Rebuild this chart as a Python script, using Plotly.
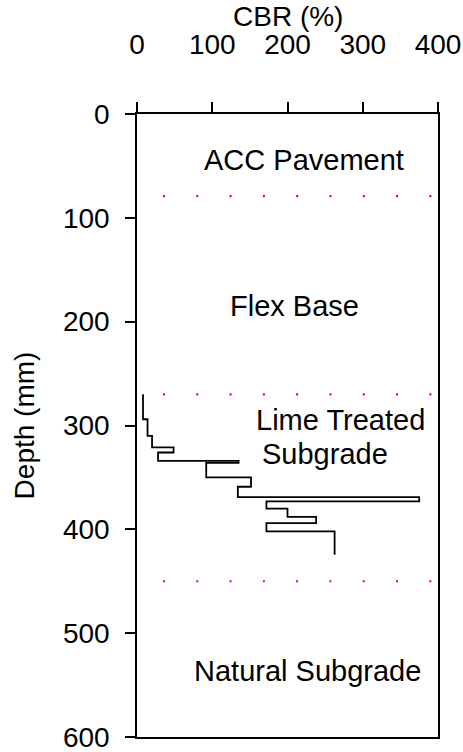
import plotly.graph_objects as go

# DCP-derived CBR profile: each layer has a constant CBR between two depths
layer_top_depth = [270, 294, 310, 321, 326, 334, 336, 350, 359, 369, 373, 380, 388, 394, 402]
layer_bottom_depth = 424.5
cbr_values = [8, 14, 20, 48.6, 28, 135, 92, 151.5, 134, 375, 172, 200, 238, 172, 262.6]

# pavement structure boundaries (mm)
boundary_depths = [79, 270, 450]

# layer names and where they sit (CBR, depth)
layer_names = ["ACC Pavement", "Flex Base", "Lime Treated", "Subgrade", "Natural Subgrade"]
label_cbr = [222.4, 208.8, 269.8, 249.6, 226.6]
label_depth = [44.3, 184.8, 294.9, 327.0, 536.9]

x_ticks = [0, 100, 200, 300, 400]
y_ticks = [0, 100, 200, 300, 400, 500, 600]

FONT = "Arial, Liberation Sans, sans-serif"

# step points for a vertical-then-horizontal profile
xs = cbr_values + [cbr_values[-1]]
ys = layer_top_depth + [layer_bottom_depth]

fig = go.Figure()
fig.add_trace(go.Scatter(
    x=xs, y=ys, mode="lines", line_shape="vh",
    line=dict(color="black", width=1.8), showlegend=False, hoverinfo="skip",
))

for d in boundary_depths:
    fig.add_shape(type="line", xref="x", yref="y", x0=34.5, x1=400, y0=d, y1=d,
                  line=dict(color="#ff0000", width=2.2, dash="2px,31.3px"))

for name, cx, cy in zip(layer_names, label_cbr, label_depth):
    fig.add_annotation(x=cx, y=cy, xref="x", yref="y", text=name, showarrow=False,
                       xanchor="center", yanchor="middle",
                       font=dict(family=FONT, size=29, color="black"))

# x-axis title, set above the top tick labels
fig.add_annotation(x=0.5, y=1.1566, xref="paper", yref="paper", text="CBR (%)",
                   showarrow=False, xanchor="center", yanchor="middle",
                   font=dict(family=FONT, size=28, color="black"))

fig.update_layout(
    width=463, height=752,
    margin=dict(l=136.7, r=25.3, t=114, b=14.7),
    paper_bgcolor="white", plot_bgcolor="white",
    font=dict(family=FONT, size=28, color="black"),
)
fig.update_xaxes(
    side="top", range=[0, 400], tickvals=x_ticks, ticks="outside", ticklen=10,
    tickwidth=1.5, tickcolor="black", showline=True, linecolor="black", linewidth=1.5,
    mirror=True, showgrid=False, zeroline=False, ticklabelstandoff=37, automargin=False,
    ticklabeloverflow="allow",
    tickfont=dict(family=FONT, size=28),
)
fig.update_yaxes(
    range=[600, 0], tickvals=y_ticks, ticks="outside", ticklen=10,
    tickwidth=1.5, tickcolor="black", showline=True, linecolor="black", linewidth=1.5,
    mirror=True, showgrid=False, zeroline=False, ticklabelstandoff=10, automargin=False,
    ticklabeloverflow="allow",
    tickfont=dict(family=FONT, size=28),
    title=dict(text="Depth (mm)", font=dict(family=FONT, size=28), standoff=20),
)

fig.write_html("out.html")
